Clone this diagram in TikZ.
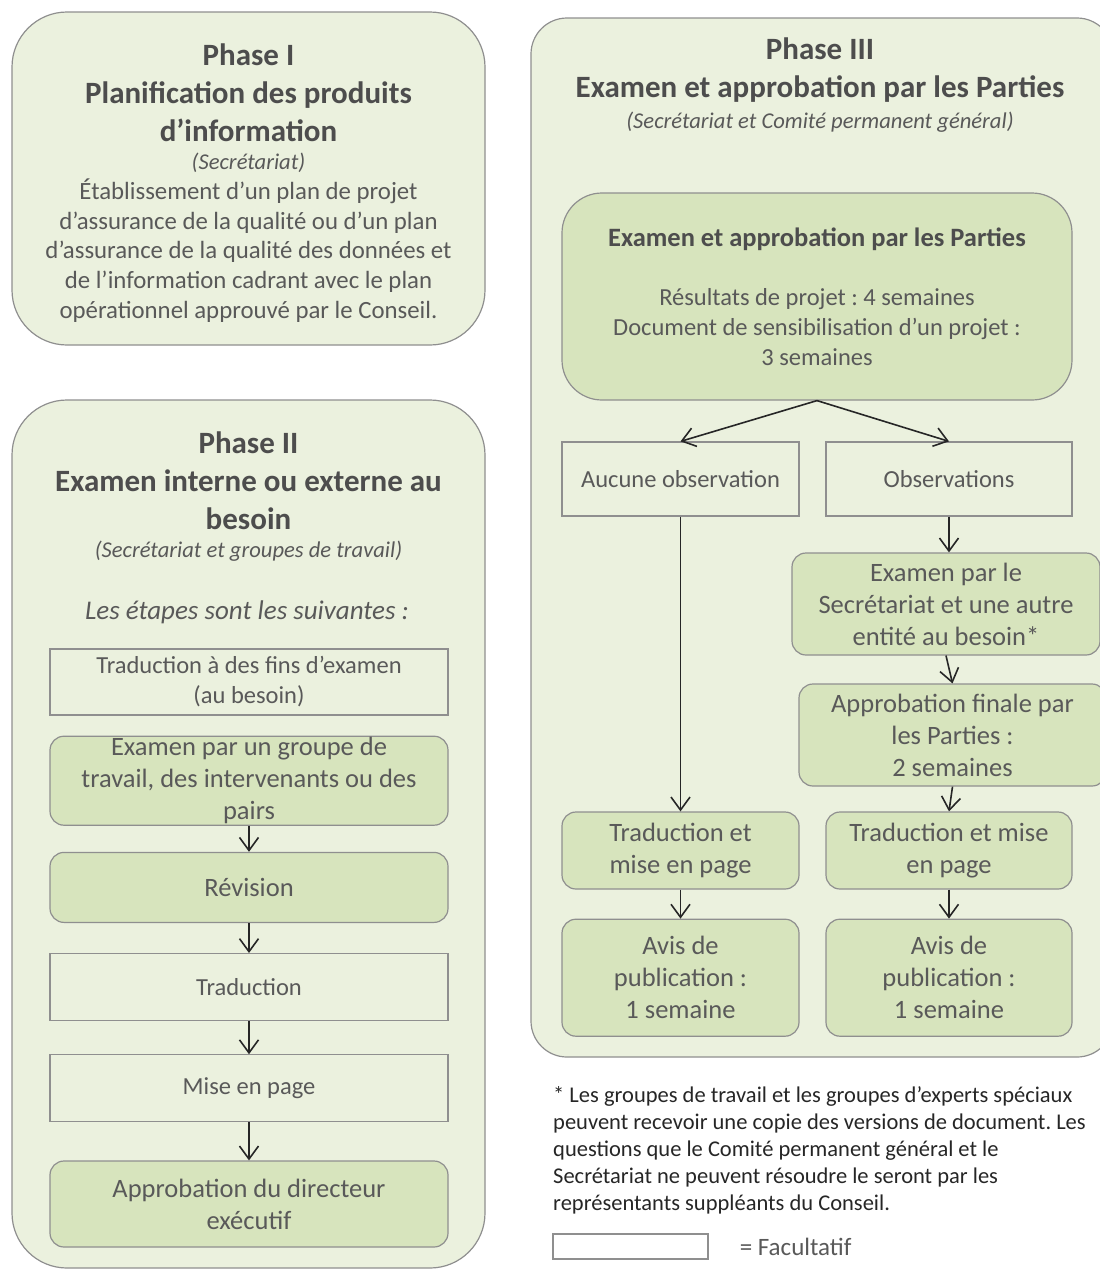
\documentclass[tikz,border=0pt]{standalone}
\usepackage{fontspec}
\setmainfont{Carlito}
\usetikzlibrary{arrows.meta, positioning}
\definecolor{panelfill}{HTML}{EBF1DE}
\definecolor{boxgreen}{HTML}{D7E4BD}
\definecolor{edgegray}{HTML}{8F8F8F}
\definecolor{textgray}{HTML}{595959}
\definecolor{titlegray}{HTML}{4D4D4D}
\definecolor{notedark}{HTML}{262626}
\definecolor{arrowdark}{HTML}{262626}
\frenchspacing

\begin{document}
\begin{tikzpicture}[
  x=1pt, y=-1pt,
  every node/.style={text=textgray, inner sep=0pt},
  panel/.style={
    draw=edgegray, line width=1.2pt, fill=panelfill,
    rounded corners=55pt
  },
  greenbox/.style={
    draw=edgegray, line width=1.2pt, fill=boxgreen,
    rounded corners=14pt, align=center,
    font=\fontsize{26.5}{32}\selectfont
  },
  optbox/.style={
    draw=edgegray, line width=1.2pt, align=center,
    font=\fontsize{24.5}{30}\selectfont
  },
  phasetitle/.style={
    align=center, text=titlegray,
    font=\bfseries\fontsize{31}{38}\selectfont
  },
  whotext/.style={font=\itshape\fontsize{22.6}{27}\selectfont},
  bodytext/.style={align=center, font=\fontsize{24.8}{29.8}\selectfont},
  connector/.style={
    -{Straight Barb[length=13pt, width=19pt]},
    line width=1.6pt, draw=arrowdark
  }
]

\useasboundingbox (0,0) rectangle (1100,1270);
\clip (0,0) rectangle (1100,1270);

% ── Phase panels ──────────────────────────────────────────────────────────
\node[panel, minimum width=473pt, minimum height=333pt]
  (ph1) at (248.5,178.5) {};
\node[panel, minimum width=473pt, minimum height=868pt]
  (ph2) at (248.5,834) {};
\node[panel, rounded corners=36pt, minimum width=582pt, minimum height=1039pt]
  (ph3) at (822,537.5) {};

% ── Phase I ───────────────────────────────────────────────────────────────
\node[phasetitle] (ph1title) at (248.5,93)
  {Phase I\\Planification des produits\\d’information};
\node[whotext] (ph1who) at (248.5,163) {(Secrétariat)};
\node[bodytext] (ph1body) at (248.5,250.5)
  {Établissement d’un plan de projet\\
   d’assurance de la qualité ou d’un plan\\
   d’assurance de la qualité des données et\\
   de l’information cadrant avec le plan\\
   opérationnel approuvé par le Conseil.};

% ── Phase II ──────────────────────────────────────────────────────────────
\node[phasetitle] (ph2title) at (248.5,480.5)
  {Phase II\\Examen interne ou externe au\\besoin};
\node[whotext] (ph2who) at (248.5,551)
  {(Secrétariat et groupes de travail)};
\node[whotext, font=\itshape\fontsize{27}{32}\selectfont]
  (ph2steps) at (247,612) {Les étapes sont les suivantes :};

\node[optbox, minimum width=398pt, minimum height=66pt]
  (trans1) at (249,682) {Traduction à des fins d’examen\\(au besoin)};
\node[greenbox, minimum width=398pt, minimum height=89pt,
      below=20pt of trans1]
  (peer) {Examen par un groupe de\\travail, des intervenants ou des\\pairs};
\node[greenbox, minimum width=398pt, minimum height=70pt,
      below=26pt of peer]
  (revise) {Révision};
\node[optbox, minimum width=398pt, minimum height=67pt,
      below=30pt of revise]
  (translate) {Traduction};
\node[optbox, minimum width=398pt, minimum height=67pt,
      below=33pt of translate]
  (layout) {Mise en page};
\node[greenbox, minimum width=398pt, minimum height=86pt,
      below=38pt of layout]
  (director) {Approbation du directeur\\exécutif};

\draw[connector] (peer.south)      -- (revise.north);
\draw[connector] (revise.south)    -- (translate.north);
\draw[connector] (translate.south) -- (layout.north);
\draw[connector] (layout.south)    -- (director.north);

% ── Phase III ─────────────────────────────────────────────────────────────
\node[phasetitle] (ph3title) at (820,70)
  {Phase III\\Examen et approbation par les Parties};
\node[whotext] (ph3who) at (820,122)
  {(Secrétariat et Comité permanent général)};

\node[greenbox, rounded corners=40pt, font=\fontsize{24.5}{29.8}\selectfont,
      minimum width=510pt, minimum height=207pt]
  (review) at (817,296.5)
  {\textcolor{titlegray}{\bfseries\fontsize{26.5}{30}\selectfont
     Examen et approbation par les Parties}\\[30pt]
   Résultats de projet : 4 semaines\\
   Document de sensibilisation d’un projet :\\
   3 semaines};

\node[optbox, minimum width=237pt, minimum height=74pt]
  (noobs) at (680.5,479) {Aucune observation};
\node[optbox, minimum width=246pt, minimum height=74pt]
  (obs) at (949,479) {Observations};

\node[greenbox, minimum width=308pt, minimum height=102pt]
  (secrev) at (946,604)
  {Examen par le\\Secrétariat et une autre\\entité au besoin*};
\node[greenbox, minimum width=307pt, minimum height=102pt]
  (finalok) at (952.5,735)
  {Approbation finale par\\les Parties :\\2 semaines};

\node[greenbox, minimum width=237pt, minimum height=77pt]
  (trleft) at (680.5,850.5) {Traduction et\\mise en page};
\node[greenbox, minimum width=246pt, minimum height=77pt]
  (trright) at (949,850.5) {Traduction et mise\\en page};
\node[greenbox, minimum width=237pt, minimum height=117pt,
      below=29pt of trleft]
  (publeft) {Avis de\\publication :\\1 semaine};
\node[greenbox, minimum width=246pt, minimum height=117pt,
      below=29pt of trright]
  (pubright) {Avis de\\publication :\\1 semaine};

\draw[connector] (review.south) -- (noobs.north);
\draw[connector] (review.south) -- (obs.north);
\draw[connector] (noobs.south)  -- (trleft.north);
\draw[connector] (obs.south)    -- (obs.south |- secrev.north);
\draw[connector] (secrev.south) -- (finalok.north);
\draw[connector] (finalok.south) -- (trright.north);
\draw[connector] (trleft.south)  -- (publeft.north);
\draw[connector] (trright.south) -- (pubright.north);

% ── Footnote and legend ───────────────────────────────────────────────────
\node[anchor=west, align=left, text=notedark,
      font=\fontsize{22.5}{27}\selectfont]
  (note) at (553,1150)
  {* Les groupes de travail et les groupes d’experts spéciaux\\
   peuvent recevoir une copie des versions de document. Les\\
   questions que le Comité permanent général et le\\
   Secrétariat ne peuvent résoudre le seront par les\\
   représentants suppléants du Conseil.};

\node[optbox, minimum width=155pt, minimum height=25pt]
  (legbox) at (630.5,1246.5) {};
\node[anchor=west, font=\fontsize{25}{30}\selectfont,
      right=31pt of legbox]
  (legtext) {= Facultatif};

\end{tikzpicture}
\end{document}
